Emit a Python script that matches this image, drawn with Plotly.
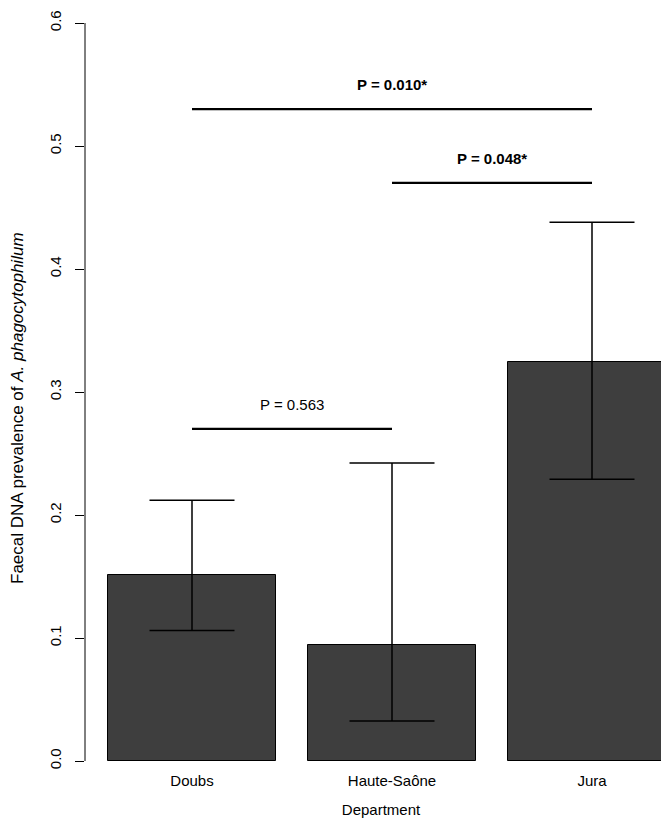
import plotly.graph_objects as go

# ---- data ----
departments = ["Doubs", "Haute-Saône", "Jura"]
prevalence = [0.151, 0.0946, 0.3244]
ci_lower = [0.106, 0.0325, 0.229]
ci_upper = [0.212, 0.2423, 0.438]
y_ticks = [0.0, 0.1, 0.2, 0.3, 0.4, 0.5, 0.6]
y_tick_labels = ["0.0", "0.1", "0.2", "0.3", "0.4", "0.5", "0.6"]
# pairwise comparisons: (from index, to index, line height, label, bold)
comparisons = [
    (0, 2, 0.53, "P = 0.010*", True),
    (1, 2, 0.47, "P = 0.048*", True),
    (0, 1, 0.27, "P = 0.563", False),
]

xpos = list(range(len(departments)))
err_plus = [u - v for u, v in zip(ci_upper, prevalence)]
err_minus = [v - l for v, l in zip(prevalence, ci_lower)]

FONT = "Liberation Sans, Arial, Helvetica, sans-serif"

fig = go.Figure()
fig.add_trace(go.Bar(
    x=xpos, y=prevalence, width=0.84,
    marker=dict(color="#3e3e3e", line=dict(color="black", width=1)),
    error_y=dict(type="data", symmetric=False, array=err_plus, arrayminus=err_minus,
                 color="black", thickness=1.5, width=42.5),
    cliponaxis=False, showlegend=False, hoverinfo="skip",
))

# y axis line (only over tick range, R style)
fig.add_shape(type="line", xref="paper", yref="y", x0=0, x1=0, y0=y_ticks[0], y1=y_ticks[-1],
              line=dict(color="black", width=1))

for i0, i1, h, lab, bold in comparisons:
    fig.add_shape(type="line", xref="x", yref="y", x0=xpos[i0], x1=xpos[i1], y0=h, y1=h,
                  line=dict(color="black", width=2.2))
    fig.add_annotation(x=(xpos[i0] + xpos[i1]) / 2, y=h + 0.02, xref="x", yref="y",
                       text=f"<b>{lab}</b>" if bold else lab, showarrow=False,
                       font=dict(family=FONT, size=15, color="black"),
                       xanchor="center", yanchor="middle")

# y title
fig.add_annotation(xref="paper", yref="y", x=(10 - 77) / 592, y=0.287,
                   text="Faecal DNA prevalence of <i>A. phagocytophilum</i>",
                   textangle=-90, showarrow=False, xanchor="center", yanchor="middle",
                   font=dict(family=FONT, size=17, color="black"))

fig.update_layout(
    width=669, height=820,
    margin=dict(l=77, r=0, t=0, b=67),
    paper_bgcolor="white", plot_bgcolor="white",
    font=dict(family=FONT, size=15, color="black"),
    bargap=0,
    xaxis=dict(range=[-0.535, 2.425], tickvals=xpos, ticktext=departments,
               showline=False, showgrid=False, zeroline=False,
               ticks="outside", ticklen=6, tickcolor="rgba(0,0,0,0)",
               tickfont=dict(family=FONT, size=15),
               title=dict(text="Department", font=dict(family=FONT, size=15), standoff=16)),
    yaxis=dict(range=[0, 0.6122], tickvals=y_ticks, ticktext=y_tick_labels,
               showline=False, showgrid=False, zeroline=False,
               ticks="outside", ticklen=9, tickwidth=1, tickcolor="black",
               tickangle=-90, ticklabelstandoff=8,
               tickfont=dict(family=FONT, size=15)),
)

fig.write_html("out.html")
